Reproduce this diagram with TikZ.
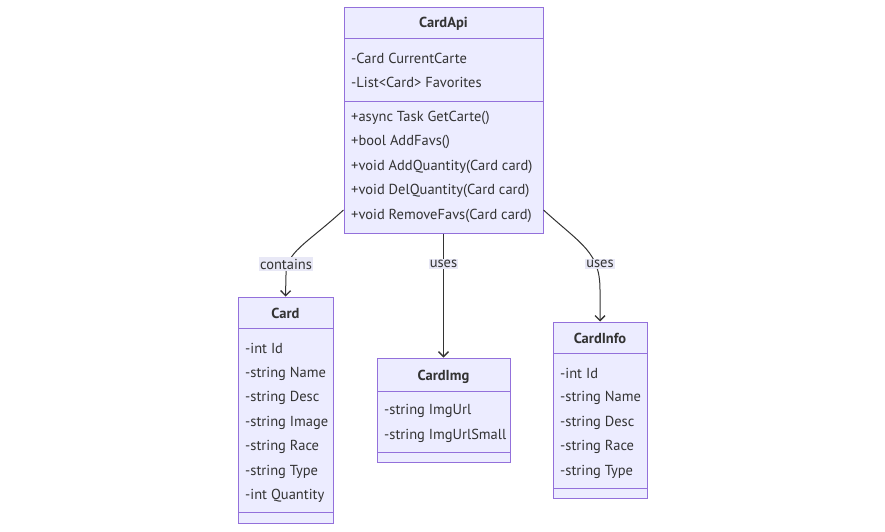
\documentclass[tikz,border=0pt]{standalone}
\usepackage{fontspec}
\setmainfont{PT Sans}
\usetikzlibrary{arrows.meta}
\definecolor{nodefill}{HTML}{ECECFF}
\definecolor{nodestroke}{HTML}{9370DB}
\definecolor{edgecol}{HTML}{333333}
\definecolor{lblbg}{HTML}{E8E8F6}
\tikzset{
  box/.style={draw=nodestroke, fill=nodefill, line width=1pt, inner sep=0pt},
  sep/.style={draw=nodestroke, line width=1pt},
  ttl/.style={font=\fontsize{14.5}{17}\selectfont\bfseries, text=edgecol, inner sep=0pt, yshift=-1.5pt},
  mem/.style={font=\fontsize{14.5}{17}\selectfont, text=edgecol, anchor=west, inner sep=0pt, yshift=-1.5pt},
  edge/.style={draw=edgecol, line width=1pt, -{Straight Barb[length=5pt,width=10pt,line width=1.3pt]}},
  lbl/.style={font=\fontsize{14.5}{17}\selectfont, text=edgecol, fill=lblbg, inner xsep=1pt, inner ysep=1.5pt, yshift=-1pt}
}
\begin{document}
\begin{tikzpicture}[x=1pt,y=-1pt]
\useasboundingbox (0,0) rectangle (885,531);
% CardApi
\node[box, minimum width=199pt, minimum height=226pt] (api) at (443.5,120) {};
\draw[sep] (344,38) -- (543,38);
\draw[sep] (344,101) -- (543,101);
\node[ttl] (apit) at (443.5,22) {CardApi};
\node[mem] (apia1) at (351,57) {-Card CurrentCarte};
\node[mem] (apia2) at (351,81) {-List<Card> Favorites};
\node[mem] (apim1) at (351,116) {+async Task GetCarte()};
\node[mem] (apim2) at (351,140) {+bool AddFavs()};
\node[mem] (apim3) at (351,165) {+void AddQuantity(Card card)};
\node[mem] (apim4) at (351,189) {+void DelQuantity(Card card)};
\node[mem] (apim5) at (351,214) {+void RemoveFavs(Card card)};
% Card
\node[box, minimum width=95pt, minimum height=226pt] (card) at (285.5,410) {};
\draw[sep] (238,328) -- (333,328);
\draw[sep] (238,512) -- (333,512);
\node[ttl] (cardt) at (285.5,312) {Card};
\node[mem] (carda1) at (245,347) {-int Id};
\node[mem] (carda2) at (245,372) {-string Name};
\node[mem] (carda3) at (245,396) {-string Desc};
\node[mem] (carda4) at (245,421) {-string Image};
\node[mem] (carda5) at (245,445) {-string Race};
\node[mem] (carda6) at (245,470) {-string Type};
\node[mem] (carda7) at (245,494) {-int Quantity};
% CardImg
\node[box, minimum width=133pt, minimum height=104pt] (img) at (443.5,410) {};
\draw[sep] (377,391) -- (510,391);
\draw[sep] (377,452) -- (510,452);
\node[ttl] (imgt) at (443.5,375) {CardImg};
\node[mem] (imga1) at (384,409) {-string ImgUrl};
\node[mem] (imga2) at (384,434) {-string ImgUrlSmall};
% CardInfo
\node[box, minimum width=94pt, minimum height=176pt] (info) at (600,410) {};
\draw[sep] (553,353) -- (647,353);
\draw[sep] (553,488) -- (647,488);
\node[ttl] (infot) at (600,337) {CardInfo};
\node[mem] (infoa1) at (560,372) {-int Id};
\node[mem] (infoa2) at (560,396) {-string Name};
\node[mem] (infoa3) at (560,421) {-string Desc};
\node[mem] (infoa4) at (560,445) {-string Race};
\node[mem] (infoa5) at (560,470) {-string Type};
% edges
\draw[edge] ([yshift=-90pt]api.west) .. controls (305,245) and (286,252) .. (286,275) -- (card.north);
\draw[edge] (api.south) -- (img.north);
\draw[edge] ([yshift=-90pt]api.east) .. controls (582,245) and (600,252) .. (600,290) -- (info.north);
\node[lbl] (l1) at (286,263) {contains};
\node[lbl] (l2) at (443.5,263) {uses};
\node[lbl] (l3) at (600,263) {uses};
\end{tikzpicture}
\end{document}
